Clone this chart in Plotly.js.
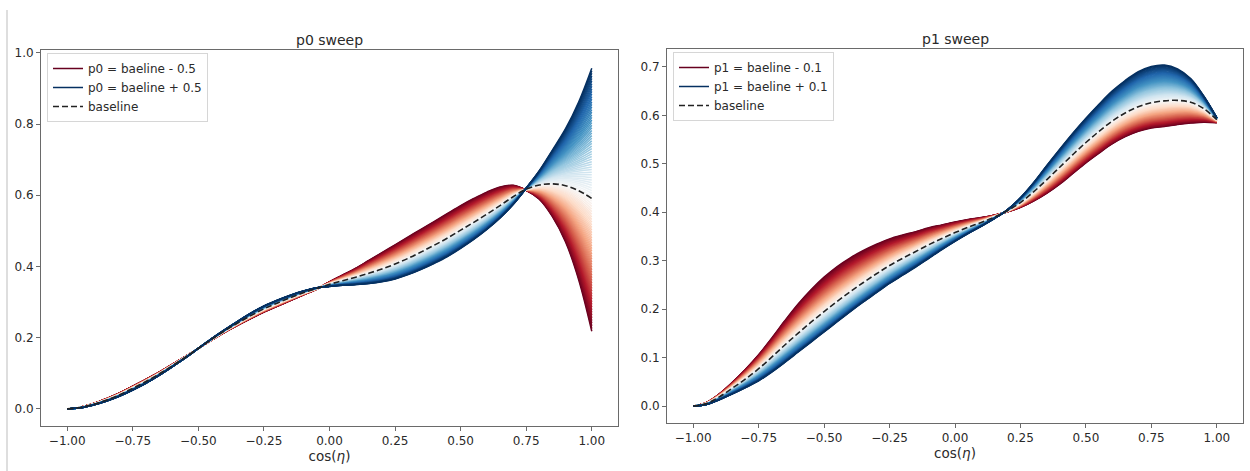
<!DOCTYPE html>
<html>
<head>
<meta charset="utf-8">
<script src="https://cdn.plot.ly/plotly-3.0.1.min.js"></script>
<style>
  html, body { margin: 0; padding: 0; background: #ffffff; }
  #chart { width: 1250px; height: 471px; }
</style>
</head>
<body>
<div id="chart"></div>
<script>
// shared cos(eta) sample points
const cosEta = [-1, -0.95, -0.9, -0.85, -0.8, -0.75, -0.7, -0.65, -0.6, -0.55, -0.5, -0.45, -0.4, -0.35, -0.3, -0.25, -0.2, -0.15, -0.1, -0.05,
                0, 0.05, 0.1, 0.15, 0.2, 0.25, 0.3, 0.35, 0.4, 0.45, 0.5, 0.55, 0.6, 0.65, 0.7, 0.75, 0.8, 0.85, 0.9, 0.95, 1];

// ---- p0 sweep ----
const p0Baseline = [0, 0.004, 0.013, 0.025, 0.040, 0.058, 0.077, 0.098, 0.121, 0.145, 0.170, 0.195, 0.219, 0.241, 0.262, 0.281, 0.297, 0.312, 0.326, 0.338,
                    0.350, 0.360, 0.370, 0.381, 0.393, 0.407, 0.423, 0.441, 0.460, 0.480, 0.502, 0.524, 0.547, 0.571, 0.596, 0.617, 0.629, 0.632, 0.627, 0.613, 0.591];
const p0Minus = [0, 0.005, 0.015, 0.029, 0.045, 0.064, 0.083, 0.103, 0.125, 0.147, 0.170, 0.193, 0.215, 0.235, 0.254, 0.272, 0.288, 0.304, 0.320, 0.336,
                 0.357, 0.376, 0.395, 0.417, 0.439, 0.461, 0.483, 0.505, 0.527, 0.549, 0.571, 0.591, 0.609, 0.623, 0.628, 0.614, 0.589, 0.540, 0.469, 0.363, 0.218];
const p0Plus = [0, 0.003, 0.011, 0.022, 0.036, 0.053, 0.072, 0.094, 0.118, 0.143, 0.170, 0.197, 0.222, 0.246, 0.269, 0.289, 0.305, 0.319, 0.331, 0.340,
                0.344, 0.347, 0.349, 0.352, 0.357, 0.365, 0.377, 0.392, 0.409, 0.428, 0.451, 0.476, 0.504, 0.536, 0.574, 0.620, 0.669, 0.727, 0.787, 0.862, 0.957];

// ---- p1 sweep ----
const p1Baseline = [0, 0.005, 0.019, 0.037, 0.056, 0.077, 0.101, 0.126, 0.150, 0.173, 0.195, 0.216, 0.236, 0.255, 0.273, 0.290, 0.305, 0.319, 0.333, 0.346,
                    0.358, 0.369, 0.379, 0.390, 0.403, 0.420, 0.442, 0.467, 0.493, 0.519, 0.544, 0.567, 0.588, 0.605, 0.618, 0.626, 0.630, 0.631, 0.627, 0.614, 0.591];
const p1Minus = [0, 0.007, 0.025, 0.049, 0.076, 0.106, 0.140, 0.176, 0.210, 0.240, 0.266, 0.288, 0.306, 0.321, 0.334, 0.345, 0.353, 0.360, 0.368, 0.374,
                 0.380, 0.385, 0.389, 0.394, 0.401, 0.410, 0.423, 0.439, 0.458, 0.480, 0.502, 0.522, 0.541, 0.556, 0.567, 0.574, 0.577, 0.581, 0.584, 0.586, 0.585];
const p1Plus = [0, 0.003, 0.013, 0.025, 0.038, 0.052, 0.070, 0.090, 0.111, 0.132, 0.153, 0.174, 0.195, 0.215, 0.234, 0.253, 0.270, 0.287, 0.305, 0.323,
                0.340, 0.356, 0.371, 0.387, 0.405, 0.430, 0.461, 0.496, 0.530, 0.563, 0.594, 0.623, 0.650, 0.672, 0.690, 0.701, 0.704, 0.696, 0.676, 0.640, 0.595];

// ---- tick labels ----
const cosTicks = [-1, -0.75, -0.5, -0.25, 0, 0.25, 0.5, 0.75, 1];
const p0Ticks = [0, 0.2, 0.4, 0.6, 0.8, 1.0];
const p1Ticks = [0, 0.1, 0.2, 0.3, 0.4, 0.5, 0.6, 0.7];

// number of curves drawn across each sweep
const sweepCount = 101;

// matplotlib RdBu anchors
const rdbu = ['#67001f', '#b2182b', '#d6604d', '#f4a582', '#fddbc7', '#f7f7f7',
              '#d1e5f0', '#92c5de', '#4393c3', '#2166ac', '#053061'];

function hexToRgb(h) {
  return [parseInt(h.slice(1, 3), 16), parseInt(h.slice(3, 5), 16), parseInt(h.slice(5, 7), 16)];
}
function rdbuColor(t) {
  const pos = Math.min(Math.max(t, 0), 1) * (rdbu.length - 1);
  const i = Math.min(Math.floor(pos), rdbu.length - 2);
  const f = pos - i;
  const a = hexToRgb(rdbu[i]), b = hexToRgb(rdbu[i + 1]);
  const c = a.map((v, k) => Math.round(v + (b[k] - v) * f));
  return 'rgb(' + c.join(',') + ')';
}

// curve at sweep position t (0 = low end, 0.5 = baseline, 1 = high end)
function sweepCurve(lo, mid, hi, t) {
  const a = (1 - t) * (1 - 2 * t), b = 4 * t * (1 - t), c = t * (2 * t - 1);
  return lo.map((v, k) => a * v + b * mid[k] + c * hi[k]);
}

function sweepTraces(xs, lo, mid, hi, xa, ya, legendId, loName, hiName) {
  const traces = [];
  for (let i = 0; i < sweepCount; i++) {
    const t = i / (sweepCount - 1);
    const isLo = i === 0, isHi = i === sweepCount - 1;
    traces.push({
      type: 'scatter', mode: 'lines', x: xs,
      y: isLo ? lo : isHi ? hi : sweepCurve(lo, mid, hi, t),
      xaxis: xa, yaxis: ya,
      line: { color: rdbuColor(t), width: 1.5, shape: 'spline', smoothing: 1 },
      hoverinfo: 'skip',
      name: isLo ? loName : isHi ? hiName : '',
      showlegend: isLo || isHi,
      legend: legendId
    });
  }
  traces.push({
    type: 'scatter', mode: 'lines', x: xs, y: mid,
    xaxis: xa, yaxis: ya,
    line: { color: '#222222', width: 1.6, dash: '6px,3px', shape: 'spline', smoothing: 1 },
    name: 'baseline', showlegend: true, legend: legendId, hoverinfo: 'skip'
  });
  return traces;
}

const data = []
  .concat(sweepTraces(cosEta, p0Minus, p0Baseline, p0Plus, 'x', 'y', 'legend',
    'p0 = baeline - 0.5', 'p0 = baeline + 0.5'))
  .concat(sweepTraces(cosEta, p1Minus, p1Baseline, p1Plus, 'x2', 'y2', 'legend2',
    'p1 = baeline - 0.1', 'p1 = baeline + 0.1'));

const W = 1250, H = 471;
const textColor = '#2a2a2a';
const spine = '#6a6a6a';

function xAxis(domain, anchor) {
  return {
    domain: domain, anchor: anchor, range: [-1.1, 1.1],
    tickvals: cosTicks, tickformat: '.2f',
    ticks: 'outside', ticklen: 4, tickwidth: 1, tickcolor: spine,
    showline: true, linecolor: spine, linewidth: 1, mirror: true,
    showgrid: false, zeroline: false,
    tickfont: { size: 12, color: textColor },
    title: { text: 'cos(<i>η</i>)', font: { size: 13.5, color: textColor }, standoff: 2 }
  };
}
function yAxis(domain, anchor, range, ticks) {
  return {
    domain: domain, anchor: anchor, range: range,
    tickvals: ticks, tickformat: '.1f',
    ticks: 'outside', ticklen: 4, tickwidth: 1, tickcolor: spine,
    showline: true, linecolor: spine, linewidth: 1, mirror: true,
    showgrid: false, zeroline: false,
    tickfont: { size: 12, color: textColor }
  };
}
function legendBox(x, y) {
  return {
    x: x, y: y, xanchor: 'left', yanchor: 'top',
    bgcolor: 'rgba(255,255,255,0.85)', bordercolor: '#d6d6d6', borderwidth: 1,
    font: { size: 12, color: textColor }, itemwidth: 30, tracegroupgap: 0,
    traceorder: 'normal'
  };
}

const layout = {
  width: W, height: H,
  margin: { l: 0, r: 0, t: 0, b: 0 },
  paper_bgcolor: '#ffffff', plot_bgcolor: '#ffffff',
  font: { family: 'DejaVu Sans, sans-serif', color: textColor },
  xaxis: xAxis([41 / W, 618 / W], 'y'),
  yaxis: yAxis([1 - 426 / H, 1 - 50 / H], 'x', [-0.048, 1.008], p0Ticks),
  xaxis2: xAxis([667 / W, 1243 / W], 'y2'),
  yaxis2: yAxis([1 - 423 / H, 1 - 49 / H], 'x2', [-0.035, 0.737], p1Ticks),
  legend: legendBox(47 / W, 1 - 53 / H),
  legend2: legendBox(673 / W, 1 - 52 / H),
  annotations: [
    { text: 'p0 sweep', xref: 'x domain', x: 0.5, yref: 'paper', y: 1 - 40 / H,
      xanchor: 'center', yanchor: 'middle', showarrow: false,
      font: { size: 14, color: textColor } },
    { text: 'p1 sweep', xref: 'x2 domain', x: 0.5, yref: 'paper', y: 1 - 39 / H,
      xanchor: 'center', yanchor: 'middle', showarrow: false,
      font: { size: 14, color: textColor } }
  ],
  shapes: [
    { type: 'line', xref: 'paper', yref: 'paper', x0: 7 / W, x1: 7 / W, y0: 0, y1: 1 - 10 / H,
      line: { color: '#bdbdbd', width: 1 } }
  ],
  showlegend: true
};

Plotly.newPlot('chart', data, layout, { staticPlot: true, displayModeBar: false });
</script>
</body>
</html>
